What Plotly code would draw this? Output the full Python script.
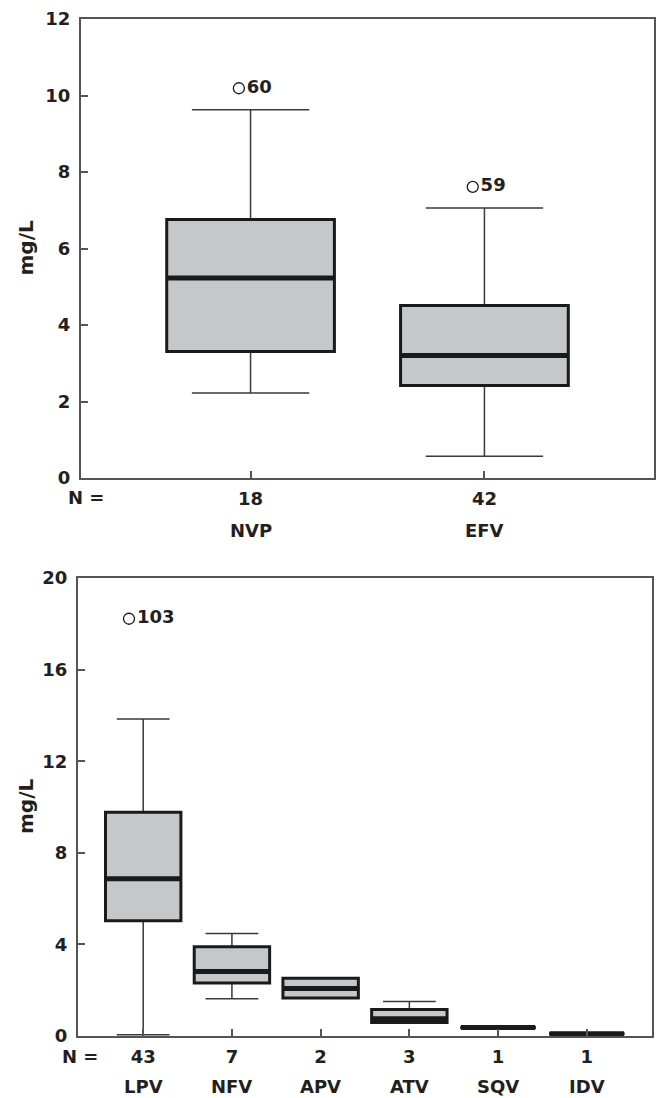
import plotly.graph_objects as go

# ---------------- data ----------------
# Top panel: NNRTIs
top_drugs = ["NVP", "EFV"]
top_n = ["18", "42"]
top_lower = [2.22, 0.57]
top_q1 = [3.31, 2.42]
top_median = [5.23, 3.20]
top_q3 = [6.76, 4.51]
top_upper = [9.63, 7.06]
top_out_idx = [0, 1]
top_out_val = [10.19, 7.61]
top_out_label = ["60", "59"]

# Bottom panel: PIs
bot_drugs = ["LPV", "NFV", "APV", "ATV", "SQV", "IDV"]
bot_n = ["43", "7", "2", "3", "1", "1"]
bot_lower = [0.05, 1.63, 1.66, 0.59, 0.37, 0.10]
bot_q1 = [5.03, 2.31, 1.66, 0.59, 0.37, 0.10]
bot_median = [6.87, 2.82, 2.07, 0.75, 0.37, 0.10]
bot_q3 = [9.77, 3.90, 2.52, 1.16, 0.37, 0.10]
bot_upper = [13.84, 4.48, 2.52, 1.51, 0.37, 0.10]
bot_out_idx = [0]
bot_out_val = [18.22]
bot_out_label = ["103"]

# ---------------- styles ----------------
W, H = 656, 1098
FONT = "DejaVu Sans"
TXT = "#231f20"
AXC = "#555555"
FILL = "#c6c7c9"
EDGE = "#1a1a1a"
WHISK = "#3a3a3a"
FS = 18


def add_panel(fig, xa, ya, n, lower, q1, med, q3, upper, boxw):
    xs = list(range(n))
    # whiskers (thin)
    fig.add_trace(go.Box(
        x=xs, q1=q1, median=med, q3=q3, lowerfence=lower, upperfence=upper,
        width=boxw, whiskerwidth=0.7, line=dict(color=WHISK, width=1.5),
        fillcolor="rgba(0,0,0,0)", boxpoints=False, showlegend=False,
        xaxis=xa, yaxis=ya, hoverinfo="skip"))
    # box body (thick outline, grey fill)
    fig.add_trace(go.Box(
        x=xs, q1=q1, median=med, q3=q3, lowerfence=q1, upperfence=q3,
        width=boxw, whiskerwidth=0, line=dict(color=EDGE, width=3),
        fillcolor=FILL, boxpoints=False, showlegend=False,
        xaxis=xa, yaxis=ya, hoverinfo="skip"))
    # median (thick bar)
    fig.add_trace(go.Box(
        x=xs, q1=med, median=med, q3=med, lowerfence=med, upperfence=med,
        width=boxw * 0.985, whiskerwidth=0, line=dict(color=EDGE, width=5),
        fillcolor=EDGE, boxpoints=False, showlegend=False,
        xaxis=xa, yaxis=ya, hoverinfo="skip"))


def add_outliers(fig, xa, ya, idx, vals, labels, dx):
    fig.add_trace(go.Scatter(
        x=[i + dx for i in idx], y=vals, text=labels,
        mode="markers+text", textposition="middle right",
        textfont=dict(family=FONT, size=FS, color=TXT, weight="bold"),
        marker=dict(symbol="circle-open", size=11, color=EDGE, line=dict(width=1.3, color=EDGE)),
        showlegend=False, xaxis=xa, yaxis=ya, hoverinfo="skip", cliponaxis=False))


fig = go.Figure()
add_panel(fig, "x", "y", len(top_drugs), top_lower, top_q1, top_median, top_q3, top_upper, 0.717)
add_outliers(fig, "x", "y", top_out_idx, top_out_val, top_out_label, -0.05)
add_panel(fig, "x2", "y2", len(bot_drugs), bot_lower, bot_q1, bot_median, bot_q3, bot_upper, 0.85)
add_outliers(fig, "x2", "y2", bot_out_idx, bot_out_val, bot_out_label, -0.16)

tickfont = dict(family=FONT, size=FS, color=TXT, weight="bold")
common_x = dict(ticks="inside", ticklen=7, tickwidth=1.5, tickcolor=AXC,
                showline=True, linecolor=AXC, linewidth=2, mirror=True,
                showgrid=False, zeroline=False, tickfont=tickfont,
                ticklabelstandoff=3, fixedrange=True)
common_y = dict(ticks="inside", ticklen=7, tickwidth=1.5, tickcolor=AXC,
                showline=True, linecolor=AXC, linewidth=2, mirror=True,
                showgrid=False, zeroline=False, tickfont=tickfont,
                ticklabelstandoff=5, tick0=0, fixedrange=True)

fig.update_layout(
    width=W, height=H,
    margin=dict(l=0, r=0, t=0, b=0, autoexpand=False),
    paper_bgcolor="white", plot_bgcolor="white",
    boxmode="overlay",
    showlegend=False,
    font=dict(family=FONT, color=TXT),
    xaxis=dict(common_x, domain=[81 / W, 654 / W], range=[-0.725, 1.725],
               tickvals=list(range(len(top_drugs))), ticktext=top_n, anchor="y"),
    yaxis=dict(common_y, domain=[(H - 478) / H, (H - 19) / H], range=[0, 12],
               dtick=2, anchor="x"),
    xaxis2=dict(common_x, domain=[78 / W, 652 / W], range=[-0.735, 5.735],
                tickvals=list(range(len(bot_drugs))), ticktext=bot_n, anchor="y2"),
    yaxis2=dict(common_y, domain=[(H - 1036) / H, (H - 578) / H], range=[0, 20],
                dtick=4, anchor="x2"),
)

ann = []
for xa, ya, drugs, nshift, dshift, nx in [("x", "y", top_drugs, -19, -52, -15),
                                          ("x2", "y2", bot_drugs, -20, -50, -18)]:
    for i, d in enumerate(drugs):
        ann.append(dict(x=i, y=0, xref=xa, yref=ya + " domain", text=d,
                        showarrow=False, xanchor="center", yanchor="middle",
                        yshift=dshift, font=dict(family=FONT, size=FS, color=TXT, weight="bold")))
    ann.append(dict(x=0, y=0, xref=xa + " domain", yref=ya + " domain", text="N =",
                    showarrow=False, xanchor="left", yanchor="middle",
                    xshift=nx, yshift=nshift,
                    font=dict(family=FONT, size=FS, color=TXT, weight="bold")))
    ann.append(dict(x=26 / W, y=0.5, xref="paper", yref=ya + " domain", text="mg/L",
                    textangle=-90, showarrow=False, xanchor="center", yanchor="middle",
                    font=dict(family=FONT, size=20, color=TXT, weight="bold")))
fig.update_layout(annotations=ann)

fig.write_html("out.html", config={"displayModeBar": False},
               post_script="document.body.style.margin='0';document.body.style.padding='0';"
                           "document.documentElement.style.overflow='hidden';")
